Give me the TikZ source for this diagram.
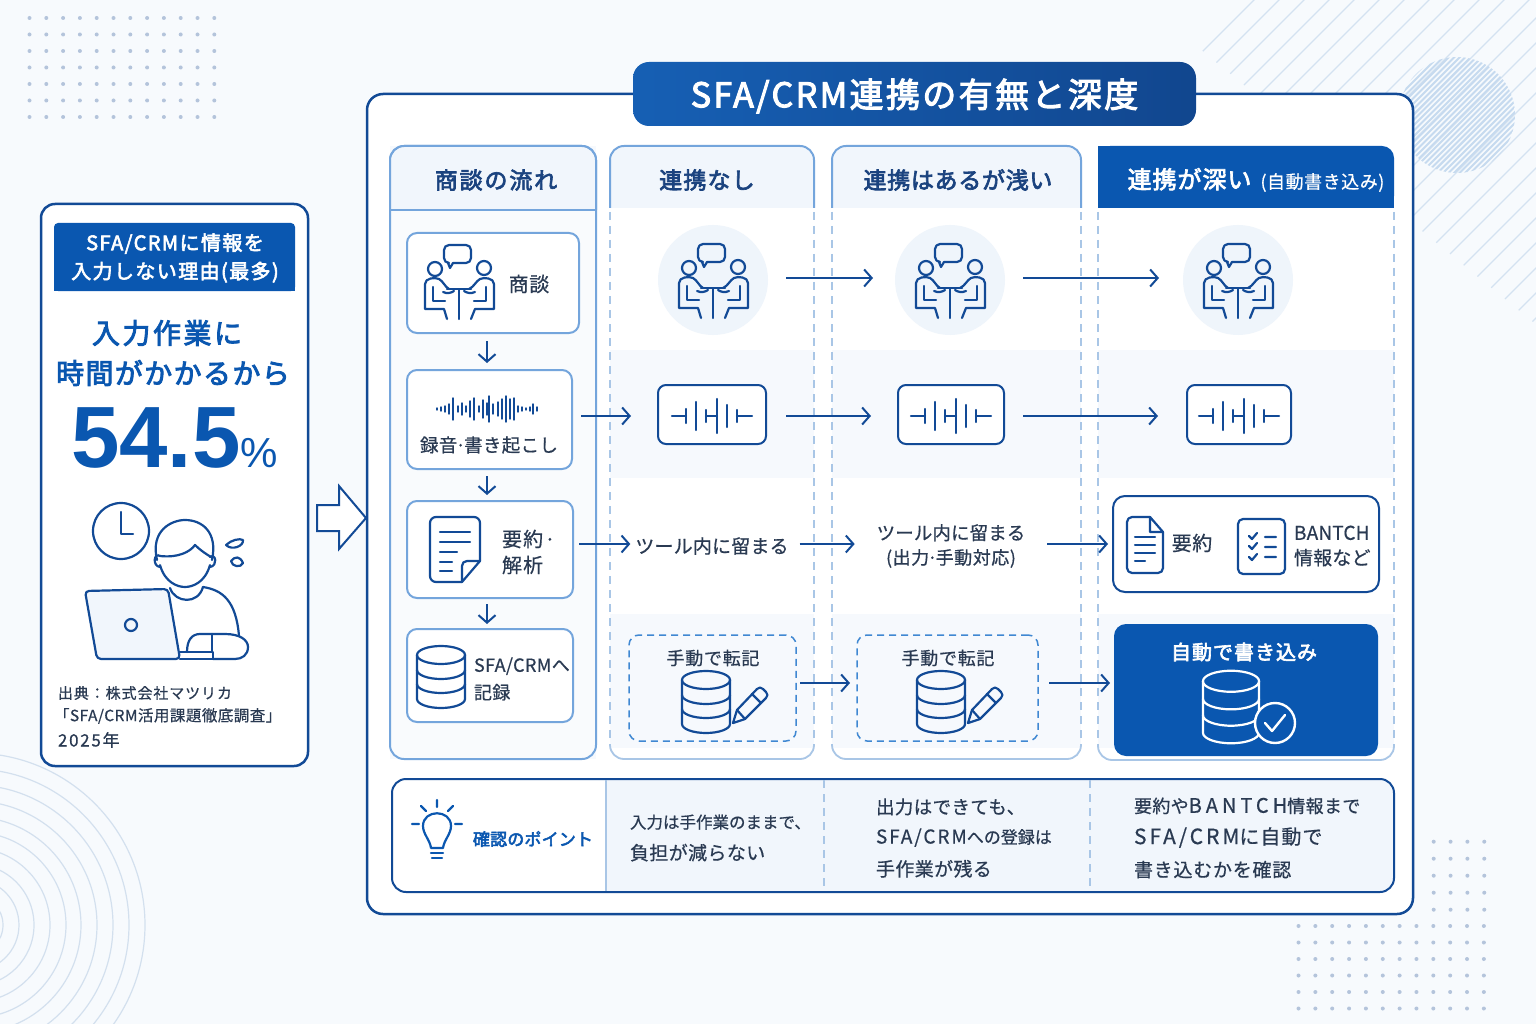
\documentclass[tikz,border=0pt]{standalone}
\usepackage{fontspec}
\usetikzlibrary{arrows.meta}
\setmainfont{Noto Sans CJK JP}
\newfontfamily\numfont{Liberation Sans}
% text weights: regular with a slight stroke, medium with a heavier one
\newcommand{\jpset}[2]{\fontsize{#1}{#1}\selectfont\mdseries\addfontfeature{LetterSpace=#2,FakeBold=0.6}}
\newcommand{\jpmed}[2]{\fontsize{#1}{#1}\selectfont\mdseries\addfontfeature{LetterSpace=#2,FakeBold=3}}
\newcommand{\middot}{\kern-0.1em·\kern-0.1em}
\definecolor{pagebg}{HTML}{F7FAFD}
\definecolor{navy}{HTML}{124A96}
\definecolor{royal}{HTML}{0A57B0}
\definecolor{skyline}{HTML}{74A5DC}
\definecolor{paleline}{HTML}{A9C6E6}
\definecolor{dashblue}{HTML}{4088D2}
\definecolor{headfill}{HTML}{F1F6FC}
\definecolor{band}{HTML}{F6F9FD}
\definecolor{disc}{HTML}{EFF5FB}
\definecolor{inkdark}{HTML}{2A3A52}
\definecolor{headink}{HTML}{1B437F}
\definecolor{dotblue}{HTML}{B4C4DB}
\definecolor{ringblue}{HTML}{D3E0EE}
\definecolor{hatchblue}{HTML}{C6DAEF}
\definecolor{stripeblue}{HTML}{D4E2F1}
\tikzset{
  x=1pt,y=-1pt,
  card/.style={draw=skyline,line width=2pt,fill=white,rounded corners=10pt,inner sep=0pt,outer sep=0pt},
  darkcard/.style={draw=navy,line width=2pt,fill=white,rounded corners=8pt,inner sep=0pt,outer sep=0pt},
  dashcard/.style={draw=dashblue,line width=1.5pt,dash pattern=on 7pt off 5pt,fill=none,rounded corners=10pt,inner sep=0pt,outer sep=0pt},
  flow/.style={draw=navy,line width=2pt,-{Straight Barb[length=7.5pt,width=17pt,line width=2pt]}},
  collbl/.style={inner sep=0pt,outer sep=0pt,text=headink,align=center},
  body/.style={inner sep=0pt,outer sep=0pt,text=inkdark,align=center},
  bodyl/.style={inner sep=0pt,outer sep=0pt,text=inkdark,align=left,anchor=west},
  glyph/.style={line width=2.2pt,line join=round,line cap=round},
  meeting/.pic={
    \begin{scope}[glyph]
      \draw (-24,-12) circle (7pt);
      \draw (25,-13) circle (7pt);
      \draw[rounded corners=5pt] (-6,-18) -- (12,-18) -- (12,-36) -- (-15,-36) -- (-15,-18) -- (-11,-18);
      \draw (-11,-18) -- (-9,-13) -- (-6,-18);
      \draw (-12,8) -- (12,8);
      \draw (0,9) -- (0,38);
      \draw (-16,11) .. controls (-12,13) and (-8,12) .. (-5,10);
      \draw (16,11) .. controls (12,13) and (8,12) .. (5,10);
      \draw (-34,3) -- (-34,28) -- (-15,28) -- (-12,38);
      \draw (-34,3) .. controls (-34,-3) and (-24,-4) .. (-20,-2) .. controls (-16,0) and (-14,6) .. (-10,8);
      \draw (-26,6) -- (-26,20) -- (-14,20);
      \draw (35,3) -- (35,28) -- (16,28) -- (12,38);
      \draw (35,3) .. controls (35,-3) and (25,-4) .. (21,-2) .. controls (17,0) and (15,6) .. (10,8);
      \draw (27,6) -- (27,20) -- (15,20);
    \end{scope}
  },
  bigwave/.pic={
    \begin{scope}[glyph]
      \draw (-40,0) -- (-26,0);
      \draw (-26,-7) -- (-26,7);
      \draw (-16,-14) -- (-16,14);
      \draw (-6,-6) -- (-6,6);
      \draw (-6,0) -- (5,0);
      \draw (5,-17) -- (5,17);
      \draw (15,-11) -- (15,11);
      \draw (25,-6) -- (25,6);
      \draw (25,0) -- (40,0);
    \end{scope}
  },
  smallwave/.pic={
    \begin{scope}[line width=1.4pt,line cap=round]
      \foreach \dx/\dy in {-50/1,-46/2,-42/3,-38/5,-34/11,-29/3,-25/6,-21/3,-17/8,-13/11,-8/3,-4/9,0/6,2/13,6/5,11/7,15/10,19/13,23/10,27/11,31/3,35/2,39/1,43/2,46/5,50/2}
        \draw (\dx,-\dy) -- (\dx,\dy);
    \end{scope}
  },
  cylinder icon/.pic={
    \begin{scope}[glyph]
      \draw (0,-22) ellipse [x radius=24pt,y radius=9pt];
      \draw (-24,-22) -- (-24,22) arc [start angle=180,end angle=360,x radius=24pt,y radius=9pt] -- (24,-22);
      \draw (-24,-7) arc [start angle=180,end angle=360,x radius=24pt,y radius=9pt];
      \draw (-24,7) arc [start angle=180,end angle=360,x radius=24pt,y radius=9pt];
    \end{scope}
  },
  pencil icon/.pic={
    \begin{scope}[glyph]
      \draw (27,21) -- (31,8) -- (51,-13) .. controls (53,-15) and (55,-15) .. (57,-13) -- (60,-10) .. controls (62,-8) and (62,-6) .. (60,-4) -- (39,17) -- cycle;
      \draw (31,8) -- (39,17);
      \draw (46,-8) -- (55,1);
    \end{scope}
  }
}
\begin{document}
\begin{tikzpicture}
\useasboundingbox (0,0) rectangle (1536,1024);
\fill[pagebg] (0,0) rectangle (1536,1024);

% corner ornaments: dot grids, rings, stripes and the hatched disc
\foreach \i in {0,...,11}\foreach \j in {0,...,6}
  \fill[dotblue] ({29.5+16.8*\i},{18+16.5*\j}) circle (2pt);
\foreach \i in {0,...,11}\foreach \j in {0,...,5}
  \fill[dotblue] ({1298.5+16.85*\i},{926+16.5*\j}) circle (2pt);
\foreach \i in {0,...,3}\foreach \j in {0,...,4}
  \fill[dotblue] ({1433.7+16.85*\i},{841.7+17*\j}) circle (2pt);
\begin{scope}
  \clip (0,740) rectangle (200,1024);
  \foreach \r in {30,46,61,77,93,108,124,140,156,172}
    \draw[ringblue,line width=1.2pt] (-27,925) circle (\r pt);
\end{scope}
\begin{scope}
  \clip (1190,0) rectangle (1536,340);
  \foreach \k in {0,...,26}{
    \pgfmathsetmacro{\cc}{1254+25*\k}
    \pgfmathsetmacro{\xa}{(\cc+935)/1.82}
    \draw[stripeblue,line width=1.1pt] (\xa,\cc-\xa) -- (\cc+5,-5);
  }
\end{scope}
\begin{scope}
  \clip (1457,115) circle (58pt);
  \foreach \k in {0,...,32}{
    \pgfmathsetmacro{\cc}{1572-88+5.5*\k}
    \draw[hatchblue,line width=2pt] (\cc-190,190) -- (\cc+10,-10);
  }
\end{scope}

% left summary card
\node[draw=navy,line width=2.5pt,fill=white,rounded corners=14pt,inner sep=0pt,outer sep=0pt,minimum width=267pt,minimum height=562pt] (reason) at (174.5,485) {};
\fill[royal,rounded corners=4pt] (54,291) -- (54,223) -- (295,223) -- (295,291) -- cycle;
\fill[royal] (54,240) rectangle (295,291);
\node[inner sep=0pt,text=white,align=center,font=\jpmed{20}{7}] (reasonhead) at (175,258) {SFA/CRMに情報を\\[7pt]入力しない理由(最多)};
\node[inner sep=0pt,text=royal,align=center,font=\jpmed{28}{9}] (cause1) at (167,333) {入力作業に};
\node[inner sep=0pt,text=royal,align=center,font=\jpmed{28}{5}] (cause2) at (173,373) {時間がかかるから};
\node[inner sep=0pt,text=royal,anchor=base west] (share) at (71,467) {\numfont\fontsize{87}{87}\selectfont\bfseries 54.5\fontsize{42}{42}\selectfont\mdseries\%};

% worker at a laptop with a clock
\begin{scope}[navy,glyph]
  \draw (121,531) circle (28pt);
  \draw (121,512) -- (121,534) -- (133,534);
  \draw (203,587) .. controls (222,590) and (236,600) .. (239,636);
  \draw (170,588) .. controls (175,603) and (198,605) .. (203,587);
  \draw (157,560) .. controls (150,530) and (172,520) .. (185,520) .. controls (202,520) and (218,532) .. (212,560);
  \draw (160,556) .. controls (178,558) and (190,552) .. (195,545) .. controls (200,550) and (206,554) .. (211,557);
  \draw (160,556) .. controls (154,552) and (152,566) .. (160,567);
  \draw (210,557) .. controls (216,553) and (218,566) .. (210,567);
  \draw (160,565) .. controls (165,583) and (178,587) .. (185,587) .. controls (192,587) and (205,583) .. (210,565);
  \fill[white] (87,591) -- (168,589) -- (180,657) -- (97,657) -- cycle;
  \draw[fill=headfill,rounded corners=4pt] (85,591) -- (168,589) -- (180,659) -- (97,659) -- cycle;
  \draw (131,625) circle (6pt);
  \draw (180,659) -- (213,659) -- (213,652) -- (180,652);
  \draw (187,652) .. controls (187,640) and (192,634) .. (200,634) -- (225,634) .. controls (240,634) and (248,640) .. (248,647) .. controls (248,655) and (242,659) .. (235,659) -- (213,659);
  \draw (212,634) -- (212,652);
  \draw (226,545) .. controls (231,540) and (240,538) .. (243,540) .. controls (244,546) and (232,551) .. (226,545);
  \draw (231,561) .. controls (235,556) and (240,556) .. (243,563) .. controls (241,568) and (232,567) .. (231,561);
\end{scope}

\node[bodyl,font=\jpset{15}{6}] (src1) at (58,693) {出典：株式会社マツリカ};
\node[bodyl,font=\jpset{15.5}{3}] (src2) at (54,716) {「SFA/CRM活用課題徹底調査」};
\node[bodyl,font=\jpset{17}{10}] (src3) at (58,740) {2025年};

% hollow arrow leading to the main panel
\draw[navy,line width=2pt,fill=white,line join=miter] (317,505) -- (339,505) -- (339,486) -- (366,518) -- (339,549) -- (339,531) -- (317,531) -- cycle;

% main panel with its title tab
\node[draw=navy,line width=2.5pt,fill=white,rounded corners=16pt,inner sep=0pt,outer sep=0pt,minimum width=1046pt,minimum height=820pt] (panel) at (890,504) {};
\node[left color=royal!95!white,right color=navy!95!black,rounded corners=16pt,inner sep=0pt,outer sep=0pt,minimum width=563pt,minimum height=64pt] (title) at (914.5,94) {};
\node[inner sep=0pt,outer sep=0pt,text=white,font=\jpmed{34}{7}] (titletext) at (914.5,96) {SFA/CRM連携の有無と深度};

% flow column
\fill[band] (390,146) rectangle (596,759);
\draw[skyline,line width=2pt,fill=white,fill opacity=0.4,rounded corners=14pt] (390,146) rectangle (596,759);
\fill[headfill,rounded corners=14pt] (391,147) -- (595,147) -- (595,209) -- (391,209) -- cycle;
\fill[headfill] (391,170) rectangle (595,209);
\draw[skyline,line width=2pt,rounded corners=14pt] (390,210) -- (390,146) -- (596,146) -- (596,210);
\draw[skyline,line width=2pt] (390,210) -- (596,210);
\node[collbl,font=\jpmed{23}{8}] (h1) at (496,180) {商談の流れ};

% shaded rows of the three comparison columns
\foreach \xl/\xr in {610/814,832/1081,1098/1394}{
  \fill[band] (\xl,350) rectangle (\xr,478);
  \fill[band] (\xl,614) rectangle (\xr,748);
}

% no-link column
\fill[headfill] (611,160) rectangle (813,208);
\fill[headfill,rounded corners=14pt] (611,147) rectangle (813,190);
\draw[skyline,line width=2pt,rounded corners=14pt] (610,208) -- (610,146) -- (814,146) -- (814,208);
\draw[paleline,line width=1.4pt,dash pattern=on 8pt off 6pt] (610,212) -- (610,745) (814,212) -- (814,745);
\draw[paleline,line width=1.8pt,rounded corners=14pt] (610,745) -- (610,759) -- (814,759) -- (814,745);
\node[collbl,font=\jpmed{23}{5}] (h2) at (707,180) {連携なし};

% shallow-link column
\fill[headfill] (833,160) rectangle (1080,208);
\fill[headfill,rounded corners=14pt] (833,147) rectangle (1080,190);
\draw[skyline,line width=2pt,rounded corners=14pt] (832,208) -- (832,146) -- (1081,146) -- (1081,208);
\draw[paleline,line width=1.4pt,dash pattern=on 8pt off 6pt] (832,212) -- (832,745) (1081,212) -- (1081,745);
\draw[paleline,line width=1.8pt,rounded corners=14pt] (832,745) -- (832,759) -- (1081,759) -- (1081,745);
\node[collbl,font=\jpmed{23}{3}] (h3) at (958,180) {連携はあるが浅い};

% deep-link column
\fill[royal,rounded corners=12pt] (1098,208) -- (1098,146) -- (1394,146) -- (1394,208) -- cycle;
\fill[royal] (1098,190) rectangle (1394,208);
\fill[royal] (1098,146) rectangle (1130,208);
\draw[paleline,line width=1.4pt,dash pattern=on 8pt off 6pt] (1098,212) -- (1098,745) (1394,212) -- (1394,745);
\draw[paleline,line width=1.8pt,rounded corners=14pt] (1098,745) -- (1098,760) -- (1394,760) -- (1394,745);
\node[inner sep=0pt,outer sep=0pt,text=white] (h4) at (1256,180) {\jpmed{24}{4}連携が深い\hspace{9pt}\jpset{18}{3}(自動書き込み)};

% flow column cards
\node[card,minimum width=172pt,minimum height=100pt] (cardA) at (493,283) {};
\node[card,minimum width=165pt,minimum height=99pt] (cardB) at (489.5,419.5) {};
\node[card,minimum width=166pt,minimum height=97pt] (cardC) at (490,549.5) {};
\node[card,minimum width=166pt,minimum height=93pt] (cardD) at (490,675.5) {};
\pic[navy] at (459,281) {meeting};
\node[body,font=\jpset{20}{3}] (lblA) at (529,284) {商談};
\pic[navy] at (487,409) {smallwave};
\node[body,font=\jpset{18.5}{2}] (lblB) at (489,445) {録音\middot 書き起こし};
\begin{scope}[navy,glyph]
  \draw[rounded corners=6pt] (462,582) -- (430,582) -- (430,517) -- (480,517) -- (480,561);
  \draw (480,561) -- (462,582) -- (462,566) .. controls (462,563) and (464,561) .. (467,561) -- (480,561);
  \draw (440,532) -- (470,532) (440,542) -- (470,542);
  \draw (440,552) -- (457,552) (440,562) -- (452,562) (440,571) -- (452,571);
\end{scope}
\node[bodyl,font=\jpset{20}{6}] (lblC) at (502,552) {要約·\\[6pt]解析};
\pic[navy] at (441,677) {cylinder icon};
\node[bodyl,font=\jpset{18}{2}] (lblD) at (474,679) {SFA/CRMへ\\[8pt]記録};

% no-link column contents
\node[circle,fill=disc,minimum size=110pt,inner sep=0pt,outer sep=0pt] (m2) at (713,280) {};
\pic[navy] at (713,280) {meeting};
\node[darkcard,minimum width=108pt,minimum height=59pt] (w2) at (712,414.5) {};
\pic[navy] at (712,416) {bigwave};
\node[body,font=\jpset{19}{1}] (t2) at (712,546) {ツール内に留まる};
\node[dashcard,minimum width=167pt,minimum height=106pt] (d2) at (712.5,688) {};
\node[body,font=\jpset{18}{4}] (m2lbl) at (713,658) {手動で転記};
\pic[navy] at (706,702) {cylinder icon};
\pic[navy] at (706,702) {pencil icon};

% shallow-link column contents
\node[circle,fill=disc,minimum size=110pt,inner sep=0pt,outer sep=0pt] (m3) at (950,280) {};
\pic[navy] at (950,280) {meeting};
\node[darkcard,minimum width=106pt,minimum height=59pt] (w3) at (951,414.5) {};
\pic[navy] at (951,416) {bigwave};
\node[body,font=\jpset{18.5}{0.5}] (t3) at (951,546) {ツール内に留まる\\[6pt]{\jpset{18}{3}(出力\middot 手動対応)}};
\node[dashcard,minimum width=181pt,minimum height=106pt] (d3) at (947.5,688) {};
\node[body,font=\jpset{18}{4}] (m3lbl) at (948,658) {手動で転記};
\pic[navy] at (941,702) {cylinder icon};
\pic[navy] at (941,702) {pencil icon};

% deep-link column contents
\node[circle,fill=disc,minimum size=110pt,inner sep=0pt,outer sep=0pt] (m4) at (1238,280) {};
\pic[navy] at (1238,280) {meeting};
\node[darkcard,minimum width=104pt,minimum height=59pt] (w4) at (1239,414.5) {};
\pic[navy] at (1239,416) {bigwave};
\node[darkcard,rounded corners=12pt,minimum width=266pt,minimum height=96pt] (sum) at (1246,544) {};
\begin{scope}[navy,glyph]
  \draw[rounded corners=5pt] (1150,517) -- (1127,517) -- (1127,573) -- (1163,573) -- (1163,532);
  \draw (1150,517) -- (1163,532) -- (1150,532) -- cycle;
  \draw (1135,537) -- (1155,537) (1135,545) -- (1155,545) (1135,553) -- (1155,553) (1135,561) -- (1145,561);
  \draw[rounded corners=5pt] (1238,519) rectangle (1285,574);
  \draw (1249,536) -- (1252,539) -- (1257,533) (1265,537) -- (1276,537);
  \draw (1249,546) -- (1252,549) -- (1257,543) (1265,547) -- (1276,547);
  \draw (1249,557) -- (1252,560) -- (1257,554) (1265,557) -- (1276,557);
\end{scope}
\node[body,font=\jpset{20}{3}] (lblsum) at (1192,543) {要約};
\node[bodyl,font=\jpset{19}{1}] (lblbant) at (1294,546) {BANTCH\\[6pt]情報など};
\node[fill=royal,rounded corners=12pt,inner sep=0pt,outer sep=0pt,minimum width=264pt,minimum height=132pt] (auto) at (1246,690) {};
\node[inner sep=0pt,text=white,font=\jpmed{20}{5}] (autolbl) at (1244,652) {自動で書き込み};
\pic[white,scale=1.17] at (1231,707) {cylinder icon};
\draw[white,line width=2.4pt,fill=royal] (1275,723) circle (20pt);
\draw[white,line width=2.4pt,line cap=round,line join=round] (1265,723) -- (1272,731) -- (1285,715);

% connectors: helper lines fix the arrow rows and the downward column
\coordinate (downx) at (487,0);
\coordinate (row1) at (0,278);
\coordinate (row2) at (0,416);
\coordinate (row3) at (0,544);
\coordinate (row4) at (0,683);
\draw[flow,shorten <=8pt,shorten >=7pt] (cardA.south -| downx) -- (cardB.north -| downx);
\draw[flow,shorten <=7pt,shorten >=6pt] (cardB.south -| downx) -- (cardC.north -| downx);
\draw[flow,shorten <=6pt,shorten >=5pt] (cardC.south -| downx) -- (cardD.north -| downx);
\draw[flow,shorten <=18pt,shorten >=22pt] (m2.east |- row1) -- (m3.west |- row1);
\draw[flow,shorten <=18pt,shorten >=24pt] (m3.east |- row1) -- (m4.west |- row1);
\draw[flow,shorten <=9pt,shorten >=27pt] (cardB.east |- row2) -- (w2.west |- row2);
\draw[flow,shorten <=20pt,shorten >=27pt] (w2.east |- row2) -- (w3.west |- row2);
\draw[flow,shorten <=19pt,shorten >=29pt] (w3.east |- row2) -- (w4.west |- row2);
\draw[flow,shorten <=6pt,shorten >=5pt] (cardC.east |- row3) -- (t2.west |- row3);
\draw[flow,shorten <=11pt,shorten >=22pt] (t2.east |- row3) -- (t3.west |- row3);
\draw[flow,shorten <=22pt,shorten >=5pt] (t3.east |- row3) -- (sum.west |- row3);
\draw[flow,shorten <=4pt,shorten >=7pt] (d2.east |- row4) -- (d3.west |- row4);
\draw[flow,shorten <=11pt,shorten >=4pt] (d3.east |- row4) -- (auto.west |- row4);

% checkpoints strip
\node[draw=none,fill=white,rounded corners=14pt,inner sep=0pt,outer sep=0pt,minimum width=1002pt,minimum height=113pt] (strip) at (893,835.5) {};
\begin{scope}
  \clip[rounded corners=14pt] (392,779) rectangle (1394,892);
  \fill[headfill] (606,779) rectangle (1394,892);
\end{scope}
\draw[navy,line width=2pt,rounded corners=14pt] (392,779) rectangle (1394,892);
\draw[paleline,line width=1.4pt] (606,780) -- (606,891);
\draw[paleline,line width=1.4pt,dash pattern=on 8pt off 6pt] (824,780) -- (824,891) (1090,780) -- (1090,891);
\begin{scope}[royal,glyph]
  \draw (437,800) -- (437,807) (421,806) -- (426,811) (453,806) -- (448,811) (412,824) -- (419,824) (455,824) -- (462,824);
  \draw (431,848) .. controls (430,840) and (423,834) .. (423,826) .. controls (423,809) and (451,809) .. (451,826) .. controls (451,834) and (444,840) .. (443,848) -- cycle;
  \draw (431,853) -- (443,853) (432,858) -- (442,858);
\end{scope}
\node[inner sep=0pt,text=royal,font=\jpmed{17}{1}] (pointlbl) at (533,839) {確認のポイント};
\node[bodyl,align=left] (p1) at (630,838) {\jpset{16.5}{0}入力は手作業のままで、\\[13pt]\jpset{19}{2}負担が減らない};
\node[bodyl,align=left] (p2) at (876,838) {\jpset{18.5}{2}出力はできても、\\[12pt]\jpset{19}{10}SFA/CRM\jpset{17}{0}への登録は\\[12pt]\jpset{19}{2}手作業が残る};
\node[bodyl,align=left] (p3) at (1134,838) {\jpset{18}{2}要約や\jpset{20}{20}BANTCH\jpset{18}{2}情報まで\\[12pt]\jpset{21}{14}SFA/CRM\jpset{20}{5}に自動で\\[12pt]\jpset{19}{4}書き込むかを確認};
\end{tikzpicture}
\end{document}
